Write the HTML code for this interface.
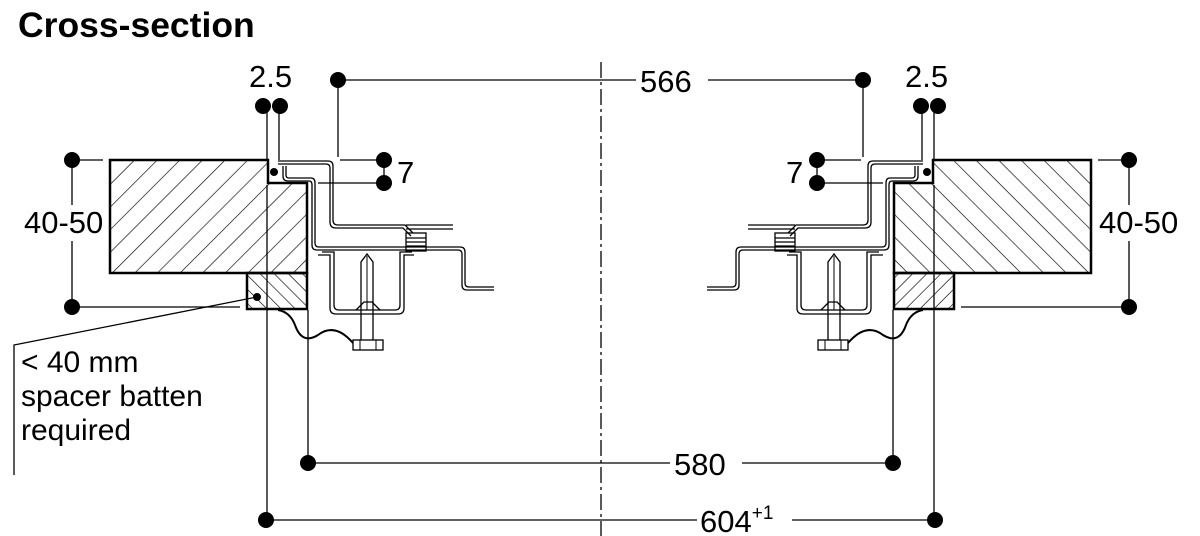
<!DOCTYPE html>
<html><head><meta charset="utf-8"><style>
html,body{margin:0;padding:0;background:#fff;}
svg{display:block;}
text{font-family:"Liberation Sans",sans-serif;fill:#000;}
</style></head><body>
<svg width="1200" height="536" viewBox="0 0 1200 536" xmlns="http://www.w3.org/2000/svg">
<defs>
<pattern id="h1" patternUnits="userSpaceOnUse" width="16" height="16" patternTransform="rotate(45)">
<line x1="0" y1="0" x2="0" y2="16" stroke="#000" stroke-width="1.3"/></pattern>
<pattern id="h2" patternUnits="userSpaceOnUse" width="10" height="10" patternTransform="rotate(-45)">
<line x1="0" y1="0" x2="0" y2="10" stroke="#000" stroke-width="1.3"/></pattern>
<g id="half" fill="none" stroke="#000">
<path d="M110 160 H268 V183 H307 V273 H110 Z" fill="url(#h1)" stroke-width="2.5"/>
<rect x="247" y="273" width="60" height="36" fill="url(#h2)" stroke-width="2.5"/>
<circle cx="274" cy="172" r="4" fill="#000" stroke="none"/>
<path d="M278 161 H328 Q333 161 333 166 V220 Q333 225 338 225 H405 L413 233" stroke-width="1.3"/>
<path d="M278 164 H326 Q330 164 330 168 V222 Q330 228 336 228 H403 L411 236" stroke-width="1.3"/>
<path d="M283 166 V176 Q283 181 288 181 H309 Q312 181 312 185 V245 Q312 250 317 250 H458 Q462 250 462 254 V285 Q462 290 467 290 H494" stroke-width="1.3"/>
<path d="M286 166 V175 Q286 178 289 178 H311 Q315 178 315 183 V243 Q315 247 319 247 H460 Q465 247 465 252 V283 Q465 287 469 287 H494" stroke-width="1.3"/>
<path d="M406 225 H453 M406 229 H453" stroke-width="1.3"/>
<rect x="406" y="233" width="20" height="18" stroke-width="1.3"/>
<path d="M406 238 H426 M406 242 H426 M406 246 H426" stroke-width="1.3"/>
<path d="M318 255 H330 V308 Q330 314 336 314 H398 Q404 314 404 308 V255 H414" stroke-width="1.3"/>
<path d="M322 252 H334 V305 Q334 310 339 310 H395 Q400 310 400 305 V252 H412" stroke-width="1.3"/>
<path d="M356 310 L364 302 L372 302 L380 310" stroke-width="1.3"/>
<path d="M361 340 V262 L367 254 L373 262 V340" stroke-width="1.3"/>
<path d="M367 256 V310" stroke-width="1"/>
<rect x="353" y="340" width="30" height="10" stroke-width="1.3"/>
<path d="M360 340 V350 M376 340 V350" stroke-width="1"/>
<path d="M278 310 Q290 312 295 325 Q302 345 318 335 Q335 322 353 343" stroke-width="2"/>
<path d="M267 110 V160 M279 110 V160" stroke-width="1.3"/>
<path d="M338 80 V157" stroke-width="1.3"/>
<path d="M340 160 H384 M318 183 H384 M384 160 V183" stroke-width="1.3"/>
<path d="M72 160 H103 M72 307 H240 M72 160 V307" stroke-width="1.3"/>
<path d="M267 185 V520 M308 310 V463" stroke-width="1.3"/>
</g>
<g id="dots" fill="#000">
<circle cx="263" cy="106" r="8"/><circle cx="280" cy="106" r="8"/>
<circle cx="338" cy="80" r="8"/>
<circle cx="384" cy="160" r="8"/><circle cx="384" cy="183" r="8"/>
<circle cx="72" cy="160" r="8"/><circle cx="72" cy="307" r="8"/>
<circle cx="308" cy="463" r="8"/><circle cx="266" cy="520" r="8"/>
</g>
</defs>
<text x="18" y="37" font-size="35.5" font-weight="bold">Cross-section</text>
<use href="#half"/><use href="#dots"/>
<g transform="translate(1201,0) scale(-1,1)"><use href="#half"/><use href="#dots"/></g>
<line x1="601" y1="62" x2="601" y2="536" stroke="#000" stroke-width="1.3" stroke-dasharray="16,4,3,4"/>
<g stroke="#000" stroke-width="1.3">
<line x1="338" y1="80" x2="636" y2="80"/><line x1="708" y1="80" x2="862" y2="80"/>
<line x1="308" y1="463" x2="670" y2="463"/><line x1="742" y1="463" x2="893" y2="463"/>
<line x1="266" y1="520" x2="697" y2="520"/><line x1="792" y1="520" x2="935" y2="520"/>
<polyline points="257,297 14,345 14,475" fill="none"/>
</g>
<circle cx="257" cy="297" r="4"/>
<rect x="24" y="205" width="82" height="36" fill="#fff"/>
<rect x="1098" y="205" width="82" height="36" fill="#fff"/>
<g font-size="31">
<text x="640" y="92">566</text>
<text x="674" y="475">580</text>
<text x="700" y="532">604<tspan font-size="19" dy="-13">+1</tspan></text>
<text x="249" y="87">2.5</text><text x="905" y="87">2.5</text>
<text x="397" y="183">7</text><text x="786" y="183">7</text>
<text x="24" y="233">40-50</text><text x="1099" y="233">40-50</text>
</g>
<g font-size="30">
<text x="21" y="372">&lt; 40 mm</text>
<text x="21" y="406">spacer batten</text>
<text x="21" y="440">required</text>
</g>
</svg>
</body></html>
